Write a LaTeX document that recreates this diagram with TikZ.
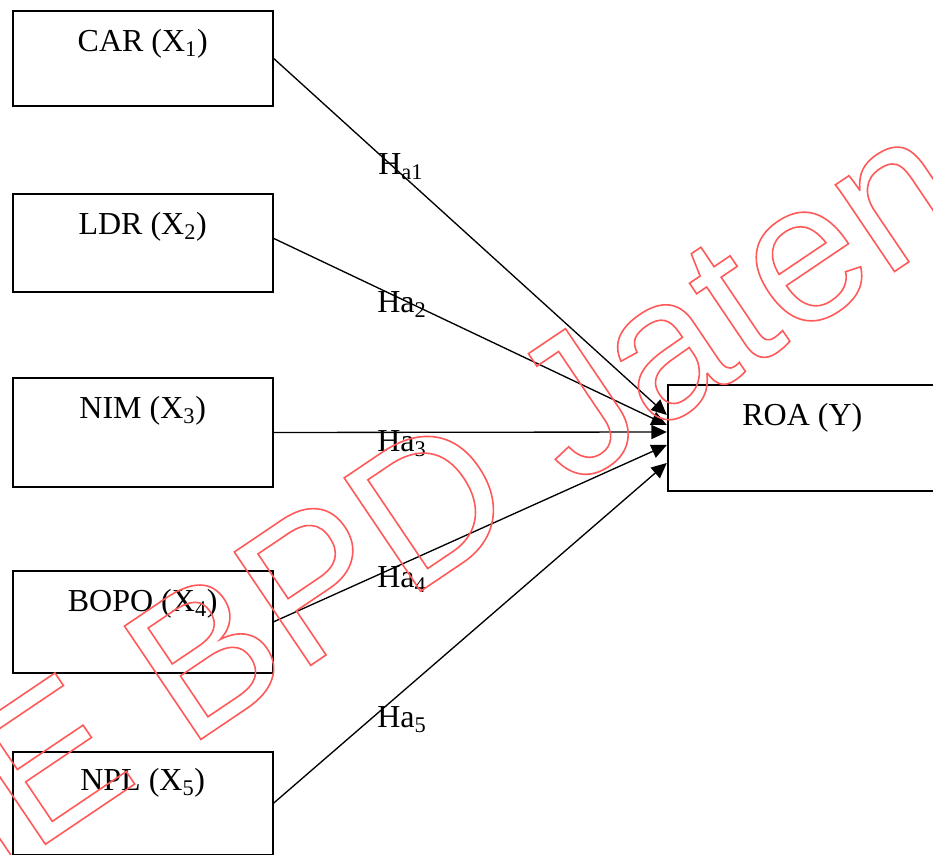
\documentclass[tikz,border=0pt]{standalone}
\usepackage{fontspec}
\setmainfont{Liberation Serif}
\newfontfamily\wmfont{Liberation Sans}
\usetikzlibrary{arrows.meta,calc}
\definecolor{wmred}{RGB}{255,90,90}
% stroke-only glyphs (PDF text rendering mode 1)
\newcommand\outlinetext[1]{\special{pdf:literal direct 1 Tr 1.2 w}#1\special{pdf:literal direct 0 Tr}}
\tikzset{
  varbox/.style={draw, line width=1.3pt, minimum width=195pt, inner sep=0pt},
  lbl/.style={inner sep=0pt, anchor=base, font=\fontsize{24}{28}\selectfont},
  hyp/.style={inner sep=0pt, anchor=base west, font=\fontsize{24}{28}\selectfont},
  link/.style={line width=1pt, -{Triangle[length=11.5pt,width=10.5pt]}},
  mark text/.style={inner sep=0pt, anchor=base west, rotate=34, text=wmred,
    font=\wmfont\fontsize{149}{149}\selectfont}
}
\begin{document}
\begin{tikzpicture}[x=0.75pt, y=-0.75pt]
\useasboundingbox (0,0) rectangle (933,855);
\clip (0,0) rectangle (933,855);

% independent variables
\node[varbox, minimum height=71.5pt] (x1) at (142.7,58.35) {};
\node[varbox, minimum height=73.3pt] (x2) at (142.7,242.85) {};
\node[varbox, minimum height=81.3pt] (x3) at (142.7,432.5) {};
\node[varbox, minimum height=76.3pt] (x4) at (142.7,621.85) {};
\node[varbox, minimum height=77pt]   (x5) at (142.7,803.2) {};
% dependent variable
\node[varbox, minimum width=202pt, minimum height=79pt] (y) at (802.35,438) {};

\node[lbl] (t1) at ($(x1.north)+(0,42)$) {CAR (X\textsubscript{1})};
\node[lbl] (t2) at ($(x2.north)+(0,41)$) {LDR (X\textsubscript{2})};
\node[lbl] (t3) at ($(x3.north)+(0,41)$) {NIM (X\textsubscript{3})};
\node[lbl] (t4) at ($(x4.north)+(0,41)$) {BOPO (X\textsubscript{4})};
\node[lbl] (t5) at ($(x5.north)+(0,40)$) {NPL (X\textsubscript{5})};
\node[lbl] (ty) at ($(y.north)+(0,41)$) {ROA (Y)};

% hypotheses
\draw[link] (x1.east) -- ($(y.west)+(0,-23)$);
\draw[link] ($(x2.east)+(0,-4.5)$) -- ($(y.west)+(0,-13)$);
\draw[link] (x3.east) -- ($(y.west)+(0,-6)$);
\draw[link] (x4.east) -- ($(y.west)+(0,7)$);
\draw[link] (x5.east) -- ($(y.west)+(0,25)$);

\node[hyp] (h1) at (378,175) {H\textsubscript{a1}};
\node[hyp] (h2) at (377,313) {Ha\textsubscript{2}};
\node[hyp] (h3) at (377,452) {Ha\textsubscript{3}};
\node[hyp] (h4) at (377,588) {Ha\textsubscript{4}};
\node[hyp] (h5) at (377,728) {Ha\textsubscript{5}};

% outlined watermark
\node[mark text] (wm) at (-224.6,1026.4) {\outlinetext{STIE BPD Jateng}};
\end{tikzpicture}
\end{document}
